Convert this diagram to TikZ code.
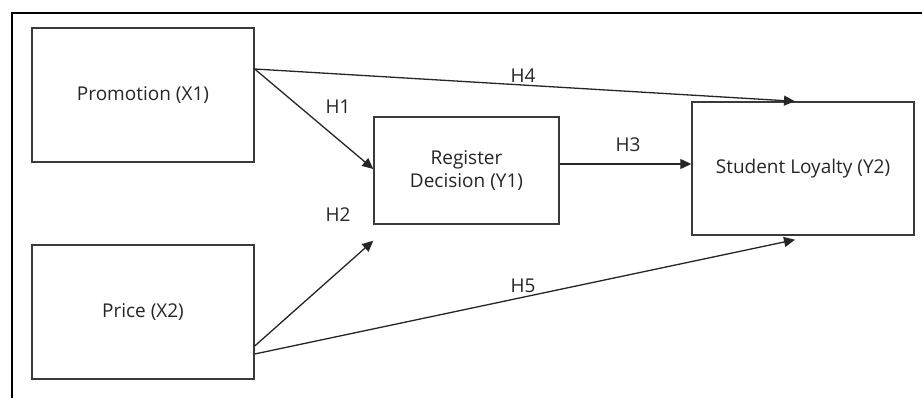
\documentclass[tikz,border=0pt]{standalone}
\usepackage{fontspec}
\setmainfont{Open Sans}
\usetikzlibrary{arrows.meta,calc}
\definecolor{boxline}{HTML}{3A3A3A}
\definecolor{txt}{HTML}{262626}
\tikzset{
  box/.style={draw=boxline, line width=1.4pt, inner sep=0pt, align=center, text=txt,
    font=\fontsize{19}{23}\selectfont},
  conn/.style={draw=black!85, line width=1.3pt, -{Triangle[length=11pt,width=10pt]}},
  lab/.style={text=txt, font=\fontsize{19}{23}\selectfont, inner sep=0pt},
  frame/.style={line width=2.2pt, black}
}
\begin{document}
\begin{tikzpicture}[x=1pt,y=-1pt]
\useasboundingbox (0,0) rectangle (922,397);
\fill[white] (0,0) rectangle (922,397);
\draw[frame] (12,398) -- (12,13) -- (923,13);

\node[box, minimum width=222pt, minimum height=134pt] (p) at (143,95) {Promotion (X1)};
\node[box, minimum width=222pt, minimum height=134pt] (q) at (143,312) {Price (X2)};
\node[box, minimum width=185pt, minimum height=107pt] (r) at (466.5,170.5) {Register\\Decision (Y1)};
\node[box, minimum width=222pt, minimum height=133pt] (s) at (803,168.5) {Student Loyalty (Y2)};

\coordinate (p1) at ([yshift=26pt]p.east);
\coordinate (q1) at ([yshift=-34pt]q.east);
\coordinate (q2) at ([yshift=-42pt]q.east);
\coordinate (r2) at ([yshift=-16pt]r.south west);
\coordinate (sN) at ([xshift=-8pt]s.north);
\coordinate (sS) at ([xshift=-8pt,yshift=-4pt]s.south);

\draw[conn] (p1) -- ([yshift=1.5pt]r.west);
\draw[conn] (p1) -- (sN);
\draw[conn] ([yshift=6.5pt]r.east) -- ([yshift=4.5pt]s.west);
\draw[conn] (q1) -- (r2);
\draw[conn] (q2) -- (sS);

\node[lab] (h1) at (338,107) {H1};
\node[lab] (h2) at (338,215) {H2};
\node[lab] (h3) at (628,145) {H3};
\node[lab] (h4) at (523,76) {H4};
\node[lab] (h5) at (523,286) {H5};
\end{tikzpicture}
\end{document}
